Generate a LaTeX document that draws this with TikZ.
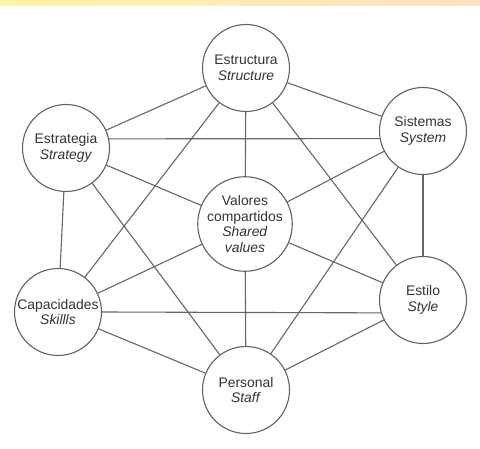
\documentclass[tikz,border=0pt]{standalone}
\usepackage{fontspec}
\setmainfont{Liberation Sans}
\begin{document}
\begin{tikzpicture}[x=1pt,y=-1pt]
	\tikzstyle{Vertex} = [circle, draw=black!62, line width=1.1pt, minimum size=87pt, inner sep=0pt, align=center, text=black!80, font=\fontsize{13.9}{15.5}\selectfont]
	\tikzstyle{Edge} = [draw=black!60, line width=1.1pt]
	\useasboundingbox (0,0) rectangle (480,449);
	\shade [left color={rgb,255:red,255;green,243;blue,165}, right color={rgb,255:red,255;green,226;blue,195}] (0,0) rectangle (480,6);
	\node (estructura) at (246,68) [Vertex, fill=white] {Estructura\\\textit{Structure}};
	\node (estrategia) at (66,148) [Vertex, fill=white] {Estrategia\\\textit{Strategy}};
	\node (sistemas) at (423,131) [Vertex, fill=white] {Sistemas\\\textit{System}};
	\node (valores) at (245,224) [Vertex, fill=white] {Valores\\compartidos\\\textit{Shared}\\\textit{values}};
	\node (capacidades) at (58,312) [Vertex, fill=white] {Capacidades\\\textit{Skillls}};
	\node (estilo) at (423,300) [Vertex, fill=white] {Estilo\\\textit{Style}};
	\node (personal) at (246,390) [Vertex, fill=white] {Personal\\\textit{Staff}};
	% outer ring
	\draw [Edge] (estructura) to (estrategia);
	\draw [Edge] (estructura) to (sistemas);
	\draw [Edge] (estrategia) to (capacidades);
	\draw [Edge] (sistemas) to (estilo);
	\draw [Edge] (capacidades) to (personal);
	\draw [Edge] (estilo) to (personal);
	% cross lines
	\draw [Edge] (estrategia.12) to (sistemas.190);
	\draw [Edge] (capacidades.east) to (estilo.197);
	\draw [Edge] (estructura) to (capacidades);
	\draw [Edge] (estructura) to (estilo);
	\draw [Edge] (estrategia) to (personal);
	\draw [Edge] (sistemas) to (personal);
	% spokes to the centre
	\draw [Edge] (valores) to (estructura);
	\draw [Edge] (valores) to (estrategia);
	\draw [Edge] (valores) to (sistemas);
	\draw [Edge] (valores) to (capacidades);
	\draw [Edge] (valores) to (estilo);
	\draw [Edge] (valores) to (personal);
\end{tikzpicture}
\end{document}
